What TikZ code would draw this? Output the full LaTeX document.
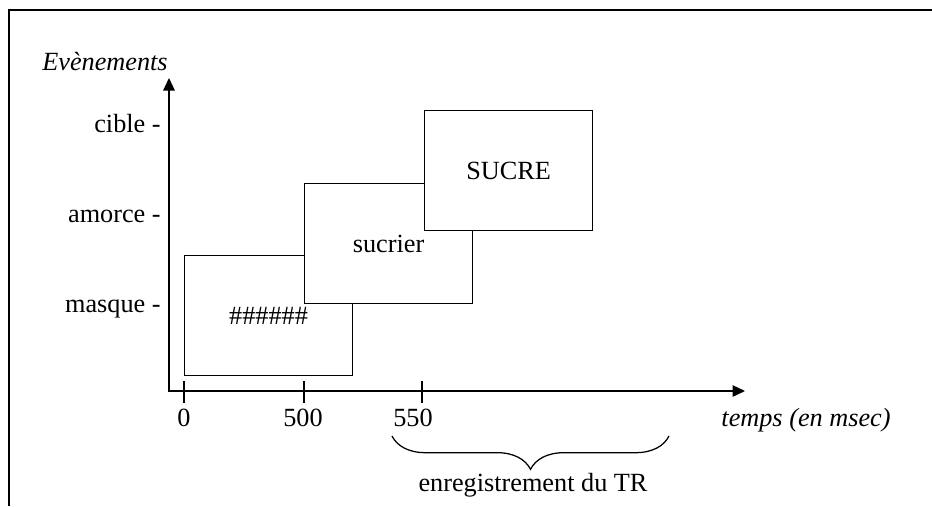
\documentclass[tikz,border=0pt]{standalone}
\usepackage{fontspec}
\setmainfont{Liberation Serif}
\usetikzlibrary{arrows.meta,decorations.pathreplacing}

\tikzset{
	evtbox/.style={draw, fill=white, line width=0.6pt, inner sep=0pt, anchor=north west, minimum width=80.6pt, minimum height=57.6pt},
	axe/.style={line width=0.7pt, -{Triangle[length=6pt,width=5.5pt]}},
	tick/.style={line width=0.7pt},
	titre/.style={font=\itshape\fontsize{12.6pt}{15pt}\selectfont}
}

\begin{document}
\begin{tikzpicture}[x=0.48pt, y=-0.48pt, font=\fontsize{12.6pt}{15pt}\selectfont]
				\useasboundingbox (0,0) rectangle (932,506);
				\coordinate (fbas)at(9, 506);
				\coordinate (fcoin)at(9, 10);
				\coordinate (fdroite)at(932, 10);
				\draw[line width=0.7pt] (fbas) -- (fcoin) -- (fdroite);
				\node[evtbox] (masque)at(184, 255) {\#\#\#\#\#\#};
				\node[evtbox] (sucrier)at(304, 183) {sucrier};
				\node[evtbox] (cible)at(424, 110) {SUCRE};
				\coordinate (O)at(169, 391);
				\coordinate (ytop)at(169, 78);
				\coordinate (xend)at(745, 391);
				\draw[axe] (O) -- (ytop);
				\draw[axe] (168, 391) -- (xend);
				\node[titre] (ev)at(105, 62) {Evènements};
				\node[anchor=east] (lcible)at(168, 124) {cible -};
				\node[anchor=east] (lamorce)at(168, 216) {amorce -};
				\node[anchor=east] (lmasque)at(168, 309) {masque -};
				\coordinate (t0)at(184, 381);
				\coordinate (t500)at(304, 381);
				\coordinate (t550)at(422, 381);
				\draw[tick] (t0) -- ++(0, 22);
				\draw[tick] (t500) -- ++(0, 22);
				\draw[tick] (t550) -- ++(0, 22);
				\node (n0)at(184, 418) {0};
				\node (n500)at(303, 418) {500};
				\node (n550)at(413, 418) {550};
				\node[titre] (temps)at(806, 420) {temps (en msec)};
				\coordinate (bg)at(392, 436);
				\coordinate (bd)at(669, 436);
				\draw[line width=0.6pt, decorate, decoration={brace, mirror, amplitude=16pt}] (bg) -- (bd);
				\node (tr)at(533, 485) {enregistrement du TR};
			\end{tikzpicture}
\end{document}
